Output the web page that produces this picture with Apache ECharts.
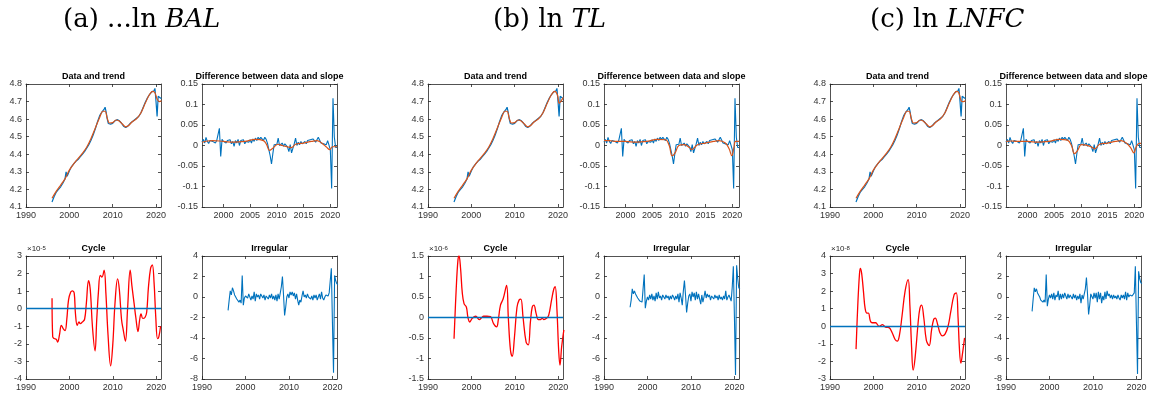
<!DOCTYPE html>
<html>
<head>
<meta charset="utf-8">
<script src="https://cdn.jsdelivr.net/npm/echarts@6.0.0/dist/echarts.min.js"></script>
<style>
html, body { margin: 0; padding: 0; background: #fff; }
#main { width: 1157px; height: 394px; }
</style>
</head>
<body>
<div id="main"></div>
<script>
"use strict";
// quarterly series start at 1996Q1
const firstQuarter = 1996;

// level data (same picture in all three panels)
const levelData = [[1996,4.128],[1996.5,4.16],[1997,4.185],[1997.5,4.2],[1998,4.215],[1998.5,4.235],[1999,4.26],[1999.25,4.30],[1999.5,4.275],[2000,4.305],[2000.5,4.33],[2001,4.345],[2001.5,4.36],[2002,4.37],[2002.5,4.385],[2003,4.40],[2003.5,4.415],[2004,4.435],[2004.5,4.455],[2005,4.48],[2005.5,4.51],[2006,4.545],[2006.5,4.585],[2007,4.62],[2007.5,4.64],[2007.75,4.645],[2008,4.655],[2008.25,4.668],[2008.5,4.64],[2008.75,4.60],[2009,4.575],[2009.5,4.572],[2010,4.576],[2010.5,4.59],[2011,4.597],[2011.5,4.592],[2012,4.578],[2012.5,4.56],[2013,4.552],[2013.5,4.56],[2014,4.575],[2014.5,4.585],[2015,4.595],[2015.5,4.605],[2016,4.615],[2016.5,4.635],[2017,4.665],[2017.5,4.695],[2018,4.72],[2018.5,4.74],[2019,4.755],[2019.5,4.76],[2019.75,4.775],[2020,4.70],[2020.25,4.615],[2020.5,4.73],[2020.75,4.72],[2021,4.72],[2021.25,4.72]];

const levelTrendA = [[1996,4.15],[1997,4.19],[1998,4.225],[1999,4.26],[2000,4.31],[2001,4.345],[2002,4.375],[2003,4.405],[2004,4.44],[2005,4.49],[2006,4.55],[2007,4.61],[2007.75,4.645],[2008.25,4.645],[2008.75,4.605],[2009.25,4.578],[2010,4.58],[2010.75,4.595],[2011.5,4.59],[2012.25,4.572],[2013,4.556],[2013.75,4.565],[2014.5,4.585],[2015.5,4.602],[2016.5,4.635],[2017.5,4.69],[2018.5,4.74],[2019.25,4.758],[2019.75,4.75],[2020.25,4.715],[2020.75,4.70],[2021.25,4.705]];
const levelTrendB = [[1996,4.15],[1997,4.19],[1998,4.225],[1999,4.26],[2000,4.31],[2001,4.345],[2002,4.375],[2003,4.405],[2004,4.44],[2005,4.49],[2006,4.55],[2007,4.61],[2007.75,4.645],[2008.25,4.645],[2008.75,4.605],[2009.25,4.578],[2010,4.58],[2010.75,4.595],[2011.5,4.59],[2012.25,4.572],[2013,4.556],[2013.75,4.565],[2014.5,4.585],[2015.5,4.602],[2016.5,4.635],[2017.5,4.69],[2018.5,4.74],[2019.25,4.758],[2019.9,4.735],[2020.25,4.69],[2020.75,4.705],[2021.25,4.725]];
const levelTrendC = [[1996,4.15],[1997,4.19],[1998,4.225],[1999,4.26],[2000,4.31],[2001,4.345],[2002,4.375],[2003,4.405],[2004,4.44],[2005,4.49],[2006,4.55],[2007,4.61],[2007.75,4.645],[2008.25,4.645],[2008.75,4.605],[2009.25,4.578],[2010,4.58],[2010.75,4.595],[2011.5,4.59],[2012.25,4.572],[2013,4.556],[2013.75,4.565],[2014.5,4.585],[2015.5,4.602],[2016.5,4.635],[2017.5,4.69],[2018.5,4.74],[2019.25,4.758],[2019.75,4.748],[2020.25,4.705],[2020.75,4.70],[2021.25,4.705]];

// difference between data and slope, quarterly
const diffData = [
  0.008,0.015,0.006,0.020,  0.010,0.005,0.012,0.008,  0.010,0.014,0.006,0.012,  0.008,0.042,-0.027,0.015,
  0.010,0.013,0.006,0.012,  0.008,0.014,0.004,0.010,  -0.002,0.012,0.006,0.015, 0.000,0.012,0.008,0.014,
  0.004,0.010,0.012,0.008,  0.014,0.006,0.016,0.010,  0.018,0.012,0.020,0.015,  0.020,0.018,0.012,0.020,
  0.015,0.005,-0.010,-0.025, -0.045,-0.020,0.002,0.005, 0.003,0.018,0.000,0.004, 0.006,-0.002,0.004,0.000,
  -0.004,-0.015,0.002,-0.018, -0.020,0.004,0.018,0.000, 0.008,0.002,0.010,0.004, 0.006,0.010,0.004,0.012,
  0.008,0.014,0.010,0.016,  0.012,0.008,0.014,0.020,  0.020,0.006,0.010,0.004,  0.008,0.002,0.012,0.008,
  -0.010,-0.105,0.115,0.020, -0.005,-0.005
];
const diffTrendA = [[1996,0.008],[1997,0.011],[1998,0.012],[2000,0.01],[2002,0.008],[2004,0.01],[2006,0.015],[2007.5,0.012],[2008.1,0.002],[2008.6,-0.012],[2009.3,-0.006],[2010.2,0.003],[2011,0.0],[2012,-0.003],[2012.7,-0.005],[2013.5,0.003],[2015,0.006],[2016.5,0.01],[2017.5,0.012],[2018.5,0.005],[2019.3,-0.004],[2019.9,-0.01],[2020.4,-0.003],[2021.25,-0.003]];
const diffTrendB = [[1996,0.012],[1997,0.012],[1998,0.01],[2000,0.01],[2002,0.008],[2004,0.01],[2006,0.015],[2007.5,0.014],[2008.2,0.0],[2008.75,-0.025],[2009.3,-0.018],[2010,0.0],[2011,0.002],[2012,-0.005],[2012.4,-0.01],[2013.5,0.002],[2015,0.006],[2016.5,0.01],[2017.5,0.012],[2018.7,0.006],[2019.4,-0.008],[2019.9,-0.025],[2020.3,-0.005],[2020.6,0.01],[2021.25,0.01]];
const diffTrendC = [[1996,0.01],[1997,0.011],[1998,0.01],[2000,0.01],[2002,0.008],[2004,0.01],[2006,0.015],[2007.5,0.013],[2008.25,0.0],[2008.8,-0.02],[2009.4,-0.012],[2010.1,0.002],[2011,0.001],[2012,-0.004],[2012.6,-0.008],[2013.5,0.003],[2015,0.006],[2016.5,0.01],[2017.5,0.012],[2018.5,0.006],[2019.3,-0.005],[2019.9,-0.018],[2020.4,-0.002],[2020.9,0.005],[2021.25,0.005]];

// cycle, in units of the axis exponent
const cycleA = [[1996,0.6],[1996.15,-1.6],[1996.5,-1.7],[1997.0,-1.75],[1997.3,-1.9],[1997.7,-1.5],[1998.15,-0.95],[1998.6,-1.15],[1999.0,-1.25],[1999.4,-0.6],[1999.8,0.5],[2000.3,0.95],[2000.7,1.02],[2001.1,0.9],[2001.4,-0.3],[2001.8,-0.95],[2002.2,-0.75],[2002.5,-0.85],[2003.0,-0.75],[2003.5,-0.6],[2003.9,0.3],[2004.4,1.6],[2004.8,1.1],[2005.3,-1.0],[2005.9,-2.4],[2006.3,-0.6],[2006.7,1.0],[2007.1,1.9],[2007.5,1.8],[2008.0,2.2],[2008.4,0.9],[2008.9,-1.5],[2009.5,-3.25],[2010.0,-2.0],[2010.5,0.3],[2011.1,1.7],[2011.5,1.1],[2012.0,-0.6],[2012.4,-1.2],[2012.9,-1.85],[2013.4,0.0],[2014.0,2.2],[2014.4,1.3],[2014.9,0.3],[2015.3,-0.5],[2015.8,-1.3],[2016.2,-0.6],[2016.5,-0.3],[2016.9,-0.55],[2017.4,-0.5],[2017.8,-0.2],[2018.2,1.2],[2018.7,2.3],[2019.1,2.5],[2019.5,1.5],[2019.9,-0.5],[2020.3,-1.7],[2020.6,-1.6],[2021.0,-1.0]];
const cycleB = [[1996.0,-0.52],[1996.5,0.7],[1996.9,1.4],[1997.15,1.5],[1997.5,1.2],[1997.9,0.6],[1998.3,0.34],[1998.85,0.25],[1999.2,0.0],[1999.6,-0.11],[2000.2,-0.02],[2001.0,0.03],[2001.8,-0.05],[2002.4,0.0],[2002.8,0.03],[2003.6,0.03],[2004.4,0.02],[2005.1,-0.15],[2005.8,-0.23],[2006.2,-0.05],[2006.7,0.3],[2007.3,0.45],[2008.1,0.78],[2008.5,0.0],[2009.0,-0.8],[2009.4,-0.95],[2009.9,-0.5],[2010.5,0.25],[2011.0,0.43],[2011.4,0.45],[2011.9,0.0],[2012.6,-0.6],[2013.1,-0.67],[2013.6,-0.1],[2014.0,0.25],[2014.4,0.3],[2014.9,0.1],[2015.4,-0.05],[2015.9,-0.05],[2016.3,-0.02],[2016.7,-0.05],[2017.3,-0.02],[2017.8,0.05],[2018.5,0.45],[2019.0,0.7],[2019.3,0.75],[2019.7,0.2],[2020.1,-0.8],[2020.4,-1.16],[2020.8,-0.7],[2021.3,-0.3]];
const cycleC = [[1996.0,-1.3],[1996.4,1.2],[1996.8,3.0],[1997.0,3.3],[1997.3,3.0],[1997.7,2.0],[1998.1,1.0],[1998.5,0.75],[1998.85,0.75],[1999.3,0.3],[1999.7,0.2],[2000.5,0.2],[2001.3,0.0],[2002.1,0.1],[2002.8,-0.05],[2003.6,-0.08],[2004.3,-0.35],[2005.0,-0.75],[2005.5,-0.85],[2006.0,-0.5],[2006.6,0.6],[2007.3,2.0],[2008.0,2.66],[2008.4,1.2],[2008.8,-1.2],[2009.15,-2.5],[2009.6,-1.8],[2010.3,0.2],[2010.7,1.0],[2011.1,1.2],[2011.6,0.5],[2012.2,-0.8],[2012.85,-1.1],[2013.4,-0.2],[2013.9,0.4],[2014.25,0.47],[2014.8,0.1],[2015.3,-0.35],[2015.9,-0.55],[2016.5,-0.45],[2017.2,0.0],[2017.8,0.8],[2018.6,1.8],[2019.1,1.9],[2019.5,0.5],[2019.8,-1.2],[2020.15,-2.1],[2020.5,-1.6],[2021.0,-0.66]];

// irregular, quarterly
const irregA = [
  -1.3,-0.3,0.6,0.2,  0.9,0.6,0.2,0.0,  -0.2,-0.3,-0.5,-0.3,  -0.6,2.1,-0.8,-0.1,
  0.1,0.2,-0.1,0.3,  0.2,-0.3,0.1,-0.2,  0.5,-0.4,0.3,0.0,  0.2,-0.2,0.3,0.1,
  -0.1,0.2,-0.3,0.1,  0.0,-0.2,0.2,-0.1,  0.3,-0.2,0.1,-0.3,  0.2,-0.4,0.3,-0.2,
  -0.3,1.0,2.0,0.2,  -1.8,-1.0,0.0,0.3,  -0.1,0.5,0.2,0.5,  0.1,0.4,-0.2,0.3,
  -0.3,-0.8,-0.3,-0.5,  0.1,0.6,0.0,0.2,  -0.1,0.3,0.0,0.1,  -0.2,0.1,-0.3,0.2,
  -0.1,0.2,-0.3,0.0,  0.3,-0.2,0.5,-0.1,  -0.3,0.0,0.2,0.3,  0.1,0.4,0.3,2.8,
  -2.5,-7.4,2.1,1.6,  1.3,1.2
];
const irregB = [
  -1.0,-0.3,0.8,0.3,  0.6,0.3,0.1,-0.1,  -0.2,-0.4,-0.3,-0.5,  -0.5,2.2,-1.1,-0.4,
  0.0,-0.3,0.2,-0.2,  0.3,-0.3,0.1,-0.4,  0.4,-0.2,0.5,-0.1,  0.1,-0.3,0.2,0.0,
  -0.2,0.2,-0.1,0.1,  -0.3,0.1,-0.2,0.2,  0.0,-0.3,0.1,-0.2,  0.3,-0.5,0.4,-0.1,
  -0.8,0.6,1.6,0.2,  -1.5,-0.6,0.1,0.3,  -0.4,0.5,0.0,0.4,  -0.3,0.5,-0.2,0.3,
  -0.2,-0.7,0.2,-0.5,  0.0,0.6,-0.1,0.3,  0.0,0.2,-0.3,0.1,  0.0,-0.2,0.2,-0.1,
  0.1,-0.3,0.2,-0.2,  0.0,-0.3,0.1,-0.2,  0.6,-0.3,0.0,0.2,  0.1,-0.4,1.0,3.0,
  -2.0,-7.6,3.1,1.8,  0.9,0.8
];
const irregC = [
  -1.4,-0.2,0.9,0.5,  0.8,0.4,0.2,0.0,  -0.3,-0.2,-0.5,-0.3,  -0.5,2.2,-0.9,-0.2,
  0.2,-0.1,0.3,-0.2,  0.4,-0.3,0.2,0.0,  0.6,-0.3,0.3,-0.2,  0.3,-0.1,0.4,0.1,
  -0.2,0.3,-0.1,0.2,  0.0,-0.2,0.3,-0.1,  0.2,-0.3,0.1,-0.2,  0.3,-0.6,0.2,-0.2,
  -0.3,0.8,1.9,0.3,  -1.7,-0.8,0.3,0.2,  -0.2,0.4,-0.1,0.4,  -0.5,0.5,-0.2,0.4,
  -0.6,0.1,-0.3,0.5,  -0.2,0.6,0.1,0.3,  -0.1,0.2,-0.2,0.2,  -0.1,0.1,-0.2,0.2,
  -0.1,-0.3,0.2,-0.1,  0.2,-0.2,0.5,-0.3,  0.4,0.0,0.2,0.3,  0.1,0.2,0.4,3.0,
  -2.5,-7.5,2.5,1.8,  1.4,1.3
];

// tick labels
const yearTicks = [1990, 2000, 2010, 2020];
const diffYearTicks = [2000, 2005, 2010, 2015, 2020];
const levelTicks = [4.1, 4.2, 4.3, 4.4, 4.5, 4.6, 4.7, 4.8];
const diffTicks = [-0.15, -0.1, -0.05, 0, 0.05, 0.1, 0.15];
const cycleTicksA = [-4, -3, -2, -1, 0, 1, 2, 3];
const cycleTicksB = [-1.5, -1, -0.5, 0, 0.5, 1, 1.5];
const cycleTicksC = [-3, -2, -1, 0, 1, 2, 3, 4];
const irregTicks = [-8, -6, -4, -2, 0, 2, 4];

const BLUE = '#0072BD', ORANGE = '#D95319', RED = '#FF0000', INK = '#262626';
const FONT = '"Liberation Sans", Arial, Helvetica, sans-serif';
const W = 135, H = 123;

function quarterly(vals) {
  return vals.map((v, i) => [firstQuarter + i * 0.25, v]);
}

let grids = [], xAxes = [], yAxes = [], series = [], titles = [];

function axis(gi, pos, min, max, ticks, labels) {
  return {
    type: 'value', gridIndex: gi, position: pos, min: min, max: max,
    axisLine: { show: true, onZero: false, lineStyle: { color: INK, width: 0.8 } },
    axisTick: { show: true, inside: true, length: 3, customValues: ticks, lineStyle: { color: INK, width: 0.8 } },
    axisLabel: { show: labels, customValues: ticks, color: '#333', fontSize: 9, fontFamily: FONT, margin: 4,
                 formatter: v => String(v) },
    splitLine: { show: false }
  };
}

function addPanel(left, top, title, xr, xTicks, yr, yTicks) {
  let gi = grids.length;
  grids.push({ left: left, top: top, width: W, height: H });
  xAxes.push(axis(gi, 'bottom', xr[0], xr[1], xTicks, true));
  xAxes.push(axis(gi, 'top', xr[0], xr[1], xTicks, false));
  yAxes.push(axis(gi, 'left', yr[0], yr[1], yTicks, true));
  yAxes.push(axis(gi, 'right', yr[0], yr[1], yTicks, false));
  titles.push({
    text: title, left: left + W / 2, top: top - 12, textAlign: 'center', padding: 0,
    textStyle: { fontSize: 9, fontWeight: 'bold', color: '#000', fontFamily: FONT }
  });
  return gi;
}

function line(gi, data, color, width, smooth, extra) {
  return Object.assign({
    type: 'line', xAxisIndex: 2 * gi, yAxisIndex: 2 * gi, data: data,
    symbol: 'none', smooth: smooth || false, silent: true,
    lineStyle: { color: color, width: width }, itemStyle: { color: color }
  }, extra || {});
}

const panels = [
  { left: 26, head: '(a) ...ln ', headIt: 'BAL', headX: 63, trend: levelTrendA, diffTrend: diffTrendA,
    cycle: cycleA, cycleRange: [-4, 3], cycleTicks: cycleTicksA, exp: '-5', irr: irregA },
  { left: 428, head: '(b) ln ', headIt: 'TL', headX: 493, trend: levelTrendB, diffTrend: diffTrendB,
    cycle: cycleB, cycleRange: [-1.5, 1.5], cycleTicks: cycleTicksB, exp: '-6', irr: irregB },
  { left: 830, head: '(c) ln ', headIt: 'LNFC', headX: 870, trend: levelTrendC, diffTrend: diffTrendC,
    cycle: cycleC, cycleRange: [-3, 4], cycleTicks: cycleTicksC, exp: '-8', irr: irregC }
];

panels.forEach(p => {
  titles.push({
    text: '{n|' + p.head + '}{i|' + p.headIt + '}', left: p.headX, top: 7, padding: 0,
    textStyle: { fontWeight: 'normal', rich: {
      n: { fontFamily: 'DejaVu Serif', fontSize: 26, fontWeight: 'normal', color: '#000' },
      i: { fontFamily: 'DejaVu Serif', fontSize: 26, fontWeight: 'normal', fontStyle: 'italic', color: '#000' }
    } }
  });

  let g1 = addPanel(p.left, 84, 'Data and trend', [1990, 2021.15], yearTicks, [4.1, 4.8], levelTicks);
  series.push(line(g1, levelData, BLUE, 1.2, false));
  series.push(line(g1, p.trend, ORANGE, 1.2, 0.35));

  let g2 = addPanel(p.left + 176, 84, 'Difference between data and slope', [1996, 2021.25], diffYearTicks, [-0.15, 0.15], diffTicks);
  series.push(line(g2, quarterly(diffData), BLUE, 1.1, false));
  series.push(line(g2, p.diffTrend, ORANGE, 1.2, 0.4));

  let g3 = addPanel(p.left, 256, 'Cycle', [1990, 2021.1], yearTicks, p.cycleRange, p.cycleTicks);
  series.push(line(g3, p.cycle, RED, 1.3, 0.4, {
    markLine: { silent: true, symbol: ['none', 'none'], label: { show: false },
                lineStyle: { color: BLUE, width: 1.3, type: 'solid' }, data: [{ yAxis: 0 }] }
  }));
  titles.push({
    text: '{a|\u00d710}{b|' + p.exp + '}', left: p.left + 1, top: 245, padding: 0,
    textStyle: { fontWeight: 'normal', rich: {
      a: { fontSize: 8, color: INK, fontFamily: FONT, fontWeight: 'normal' },
      b: { fontSize: 6, color: INK, fontFamily: FONT, fontWeight: 'normal', verticalAlign: 'top' }
    } }
  });

  let g4 = addPanel(p.left + 176, 256, 'Irregular', [1990, 2021.05], yearTicks, [-8, 4], irregTicks);
  series.push(line(g4, quarterly(p.irr), BLUE, 1.1, false));
});

let myChart = echarts.init(document.getElementById('main'));
myChart.setOption({
  animation: false,
  backgroundColor: '#fff',
  title: titles,
  grid: grids,
  xAxis: xAxes,
  yAxis: yAxes,
  series: series
});
</script>
</body>
</html>
